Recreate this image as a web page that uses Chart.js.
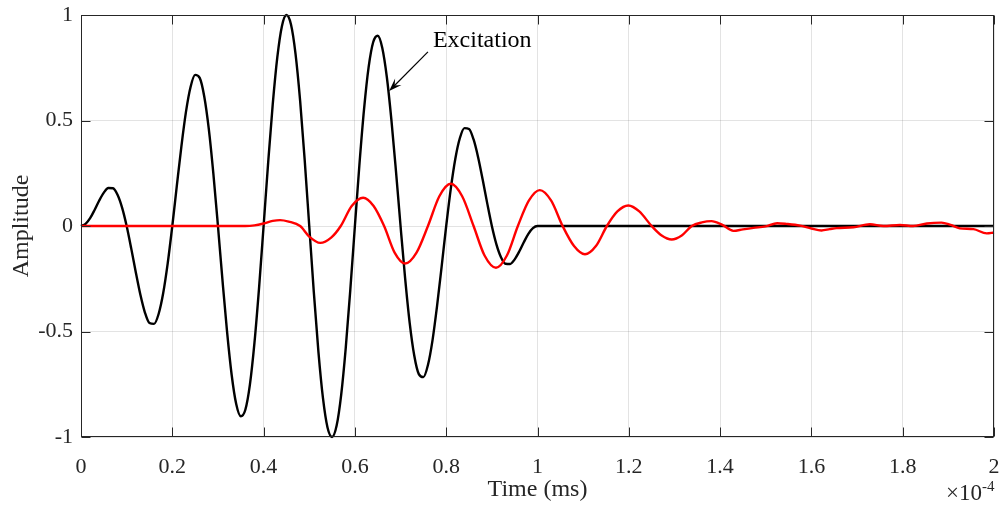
<!DOCTYPE html>
<html><head><meta charset="utf-8">
<script src="https://cdn.jsdelivr.net/npm/chart.js@4"></script>
<style>html,body{margin:0;padding:0;background:#fff}canvas{display:block}</style>
</head><body>
<canvas id="c" width="1000" height="505"></canvas>
<script>
// ---- data ----
const xTickValues = [0,0.2,0.4,0.6,0.8,1,1.2,1.4,1.6,1.8,2];
const xTickLabels = ['0','0.2','0.4','0.6','0.8','1','1.2','1.4','1.6','1.8','2'];
const yTickValues = [-1,-0.5,0,0.5,1];
const yTickLabels = ['-1','-0.5','0','0.5','1'];
const xAxisTitle = 'Time (ms)';
const yAxisTitle = 'Amplitude';
const exponentBase = '\u00d710';
const exponentPower = '-4';
const annotationText = 'Excitation';

const blackT = [0,0.01,0.02,0.03,0.04,0.05,0.06,0.07,0.08,0.09,
 0.10,0.11,0.12,0.13,0.14,0.15,0.16,0.17,0.18,0.19,
 0.20,0.21,0.22,0.23,0.24,0.25,0.26,0.27,0.28,0.29,
 0.30,0.31,0.32,0.33,0.34,0.35,0.36,0.37,0.38,0.39,
 0.40,0.41,0.42,0.43,0.44,0.45,0.46,0.47,0.48,0.49,
 0.50,0.51,0.52,0.53,0.54,0.55,0.56,0.57,0.58,0.59,
 0.60,0.61,0.62,0.63,0.64,0.65,0.66,0.67,0.68,0.69,
 0.70,0.71,0.72,0.73,0.74,0.75,0.76,0.77,0.78,0.79,
 0.80,0.81,0.82,0.83,0.84,0.85,0.86,0.87,0.88,0.89,
 0.90,0.91,0.92,0.93,0.94,0.95,0.96,0.97,0.98,0.99,
 1.00,2.00];
const blackY = [0,0.010,0.037,0.077,0.121,0.158,0.180,0.179,0.148,0.087,
 0,-0.106,-0.219,-0.325,-0.410,-0.460,-0.464,-0.417,-0.319,-0.176,
 0,0.192,0.379,0.542,0.659,0.716,0.702,0.614,0.459,0.247,
 0,-0.259,-0.502,-0.705,-0.844,-0.902,-0.871,-0.752,-0.553,-0.294,
 0,0.300,0.576,0.799,0.946,1.000,0.955,0.815,0.594,0.313,
 0,-0.313,-0.594,-0.815,-0.955,-1.000,-0.946,-0.799,-0.576,-0.300,
 0,0.294,0.553,0.752,0.871,0.902,0.844,0.705,0.502,0.259,
 0,-0.247,-0.459,-0.614,-0.702,-0.716,-0.659,-0.542,-0.379,-0.192,
 0,0.176,0.319,0.417,0.464,0.460,0.410,0.325,0.219,0.106,
 0,-0.087,-0.148,-0.179,-0.180,-0.158,-0.121,-0.077,-0.037,-0.010,
 0,0];

const redT = [0,0.30,0.36,0.38,0.40,0.42,0.436,0.455,0.48,0.50,0.524,0.548,0.569,0.593,0.618,0.641,
 0.664,0.687,0.710,0.735,0.760,0.785,0.810,0.835,0.860,0.884,0.909,0.933,0.957,0.981,1.005,1.030,
 1.055,1.080,1.104,1.128,1.152,1.175,1.199,1.223,1.250,1.272,1.294,1.316,1.338,1.360,1.381,1.405,
 1.429,1.450,1.473,1.500,1.525,1.545,1.575,1.600,1.622,1.640,1.655,1.692,1.728,1.758,1.794,1.823,
 1.853,1.885,1.905,1.925,1.955,1.984,2.000];
const redY = [0,0,0,0.003,0.012,0.024,0.028,0.021,0,-0.050,-0.080,-0.055,0,0.095,0.134,0.095,
 0,-0.126,-0.178,-0.126,0,0.141,0.200,0.141,0,-0.140,-0.198,-0.140,0,0.120,0.170,0.120,
 0,-0.095,-0.134,-0.095,0,0.069,0.097,0.069,0,-0.045,-0.064,-0.045,0,0.017,0.023,0.005,
 -0.023,-0.016,-0.009,-0.002,0.013,0.010,0.002,-0.012,-0.021,-0.015,-0.010,-0.006,0.008,0.000,0.005,0.000,
 0.012,0.016,0.005,-0.011,-0.015,-0.035,-0.031];

// annotation anchors in data units
const arrowTip = {x:0.675, y:0.64};
const arrowTail = {x:0.760, y:0.825};
const labelAnchor = {x:0.771, y:0.846};

const FONT = 'Liberation Serif';
const INK = '#262626';

function lookup(vals, labels, v){
  const i = vals.findIndex(t => Math.abs(t - v) < 1e-9);
  return i < 0 ? '' : labels[i];
}
function noPad(s){ s.paddingLeft = 0; s.paddingRight = 0; s.paddingTop = 0; s.paddingBottom = 0; }

const framePlugin = {
  id: 'frame',
  afterDraw(chart){
    const {ctx, chartArea:a, scales:{x, y}} = chart;
    ctx.save();
    ctx.strokeStyle = INK; ctx.lineWidth = 1;
    const L = Math.round(a.left)+0.5, R = Math.round(a.right)-0.5;
    const T = Math.round(a.top)+0.5, B = Math.round(a.bottom)-0.5;
    ctx.strokeRect(L, T, R-L, B-T);
    ctx.beginPath();
    xTickValues.forEach(v => {
      const px = Math.round(x.getPixelForValue(v))+0.5;
      ctx.moveTo(px, B); ctx.lineTo(px, B-9);
      ctx.moveTo(px, T); ctx.lineTo(px, T+9);
    });
    yTickValues.forEach(v => {
      const py = Math.round(y.getPixelForValue(v))+0.5;
      ctx.moveTo(L, py); ctx.lineTo(L+9, py);
      ctx.moveTo(R, py); ctx.lineTo(R-9, py);
    });
    ctx.stroke();

    // exponent label
    ctx.fillStyle = INK;
    ctx.textBaseline = 'alphabetic';
    ctx.textAlign = 'right';
    ctx.font = '15px "' + FONT + '"';
    const pw = ctx.measureText(exponentPower).width;
    ctx.fillText(exponentPower, R+1, 491);
    ctx.font = '23px "' + FONT + '"';
    ctx.fillText(exponentBase, R+1-pw, 500);

    // annotation arrow
    const tx = x.getPixelForValue(arrowTip.x), ty = y.getPixelForValue(arrowTip.y);
    const sx = x.getPixelForValue(arrowTail.x), sy = y.getPixelForValue(arrowTail.y);
    const dx = sx-tx, dy = sy-ty, len = Math.hypot(dx,dy);
    const ux = dx/len, uy = dy/len, nx = -uy, ny = ux;
    const HL = 13, HW = 9;
    ctx.strokeStyle = '#000'; ctx.fillStyle = '#000'; ctx.lineWidth = 1.2;
    ctx.beginPath(); ctx.moveTo(sx, sy); ctx.lineTo(tx+ux*7, ty+uy*7); ctx.stroke();
    ctx.beginPath();
    ctx.moveTo(tx, ty);
    ctx.lineTo(tx+ux*HL+nx*HW/2, ty+uy*HL+ny*HW/2);
    ctx.lineTo(tx+ux*HL*0.6, ty+uy*HL*0.6);
    ctx.lineTo(tx+ux*HL-nx*HW/2, ty+uy*HL-ny*HW/2);
    ctx.closePath(); ctx.fill();

    ctx.textAlign = 'left';
    ctx.font = '24px "' + FONT + '"';
    ctx.fillStyle = '#000';
    ctx.fillText(annotationText, x.getPixelForValue(labelAnchor.x), y.getPixelForValue(labelAnchor.y));
    ctx.restore();
  }
};

new Chart(document.getElementById('c'), {
  type: 'line',
  data: {
    datasets: [
      { label:'Response', data: redT.map((t,i)=>({x:t, y:redY[i]})), borderColor:'#ff0000',
        borderWidth:2.4, pointRadius:0, cubicInterpolationMode:'monotone', order:0, clip:false, fill:false },
      { label:'Excitation', data: blackT.map((t,i)=>({x:t, y:blackY[i]})), borderColor:'#000000',
        borderWidth:2.4, pointRadius:0, cubicInterpolationMode:'monotone', order:1, clip:false, fill:false }
    ]
  },
  options: {
    responsive:false, animation:false, devicePixelRatio:1,
    events: [],
    layout:{ padding:{ left:0, right:6, top:15, bottom:0 } },
    plugins:{ legend:{display:false}, tooltip:{enabled:false} },
    scales:{
      x:{
        type:'linear', min:0, max:2,
        afterBuildTicks: s => { s.ticks = xTickValues.map(v => ({value:v})); },
        afterFit: s => { s.height = 68; noPad(s); },
        ticks:{ callback: v => lookup(xTickValues, xTickLabels, v), color:INK, autoSkip:false, maxRotation:0,
                padding:17, font:{family:FONT, size:22} },
        grid:{ color:'rgba(38,38,38,0.13)', drawTicks:false, lineWidth:1 },
        border:{ display:false },
        title:{ display:true, text:xAxisTitle, color:INK, font:{family:FONT, size:24}, padding:{top:0, bottom:1} }
      },
      y:{
        type:'linear', min:-1, max:1,
        afterBuildTicks: s => { s.ticks = yTickValues.map(v => ({value:v})); },
        afterFit: s => { s.width = 81; noPad(s); },
        ticks:{ callback: v => lookup(yTickValues, yTickLabels, v), color:INK, autoSkip:false,
                padding:8, font:{family:FONT, size:22} },
        grid:{ color:'rgba(38,38,38,0.13)', drawTicks:false, lineWidth:1 },
        border:{ display:false },
        title:{ display:true, text:yAxisTitle, color:INK, font:{family:FONT, size:24}, padding:{top:7.2, bottom:0} }
      }
    }
  },
  plugins:[framePlugin]
});
</script>
</body></html>
